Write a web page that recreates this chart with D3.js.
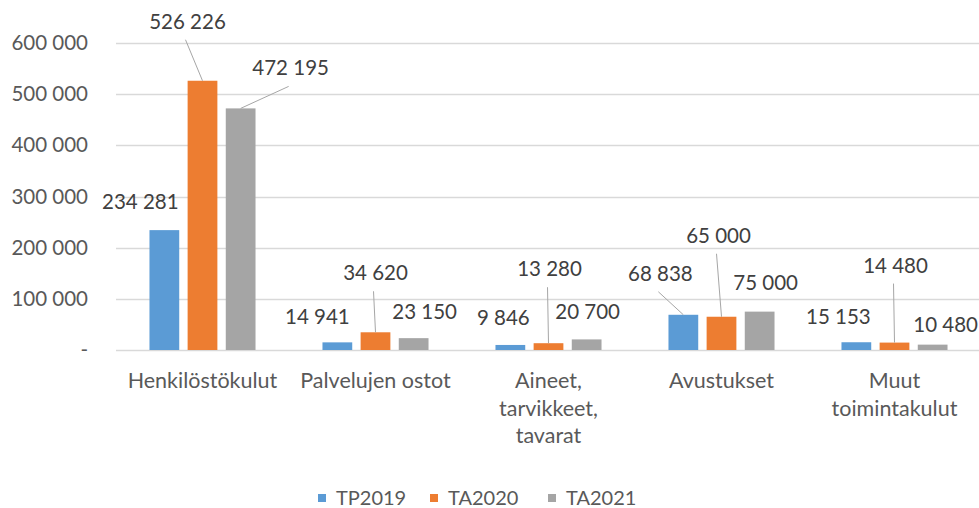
<!DOCTYPE html>
<html>
<head>
<meta charset="utf-8">
<title>Menot</title>
<style>
  body { margin: 0; background: #fff; }
  text { font-family: Lato, "Open Sans", sans-serif; }
</style>
</head>
<body>
<svg width="979" height="508"></svg>
<script src="https://d3js.org/d3.v7.min.js"></script>
<script>
const categories = [
  ['Henkilöstökulut'],
  ['Palvelujen ostot'],
  ['Aineet,', 'tarvikkeet,', 'tavarat'],
  ['Avustukset'],
  ['Muut', 'toimintakulut']
];
const seriesNames = ['TP2019', 'TA2020', 'TA2021'];
const tp2019 = [234281, 14941, 9846, 68838, 15153];
const ta2020 = [526226, 34620, 13280, 65000, 14480];
const ta2021 = [472195, 23150, 20700, 75000, 10480];
const yTicks = [0, 100000, 200000, 300000, 400000, 500000, 600000];

const colors = ['#5B9BD5', '#ED7D31', '#A5A5A5'];

// label nudges from bar top-centre [dx, dy, leader line?], by series then category
const labelNudge = [
  [[-24, -28, 0], [-20, -25, 0], [-7, -27, 0], [-23, -41, 1], [-18, -25, 0]],
  [[-15, -59, 1], [0, -59, 1], [1, -74, 1], [-3, -81, 1], [1, -77, 1]],
  [[50, -40, 1], [11, -26, 0], [1, -27, 0], [6, -29, 0], [13, -20, 0]]
];

const values = [tp2019, ta2020, ta2021];
const fmt = v => v === 0 ? '-' : d3.format(',')(v).replace(/,/g, ' ');

const svg = d3.select('svg');
const plotLeft = 116, plotRight = 981, plotTop = 43, plotBottom = 350;

const y = d3.scaleLinear().domain([0, 600000]).range([plotBottom, plotTop]);
const x0 = d3.scaleBand().domain(d3.range(categories.length)).range([plotLeft, plotRight]).paddingInner(0.387).paddingOuter(0.1935);
const x1 = d3.scaleBand().domain(d3.range(seriesNames.length)).range([0, x0.bandwidth()]).paddingInner(0.22);

// gridlines
svg.append('g').selectAll('line').data(yTicks).join('line')
  .attr('x1', plotLeft).attr('x2', plotRight)
  .attr('y1', d => Math.round(y(d)) + 0.5).attr('y2', d => Math.round(y(d)) + 0.5)
  .attr('stroke', '#D9D9D9').attr('stroke-width', 1.3);

// y axis labels
const yAxis = d3.axisLeft(y).tickValues(yTicks).tickFormat(fmt).tickSize(0).tickPadding(0);
const ya = svg.append('g').attr('transform', 'translate(88,0)').call(yAxis);
ya.select('.domain').remove();
ya.selectAll('text').attr('fill', '#595959').style('font-size', '20.5px').attr('font-family', 'Lato');

// bars
const groups = svg.append('g').selectAll('g').data(categories).join('g')
  .attr('transform', (d, i) => `translate(${x0(i)},0)`);

groups.selectAll('rect').data((d, i) => values.map((s, j) => ({ s: j, c: i, v: s[i] }))).join('rect')
  .attr('x', d => x1(d.s)).attr('width', x1.bandwidth())
  .attr('y', d => y(d.v)).attr('height', d => y(0) - y(d.v))
  .attr('fill', d => colors[d.s]);

// data labels
const labels = [];
values.forEach((s, j) => s.forEach((v, i) => {
  const bx = x0(i) + x1(j) + x1.bandwidth() / 2, by = y(v);
  const n = labelNudge[j][i];
  labels.push({ v, bx, by, lx: bx + n[0], ly: by + n[1], leader: n[2] });
}));

svg.append('g').selectAll('line').data(labels.filter(d => d.leader)).join('line')
  .attr('x1', d => d.bx).attr('y1', d => d.by)
  .attr('x2', d => d.lx - 2).attr('y2', d => d.ly + 18)
  .attr('stroke', '#A6A6A6').attr('stroke-width', 1);

svg.append('g').selectAll('text').data(labels).join('text')
  .attr('x', d => d.lx).attr('y', d => d.ly + 7)
  .attr('text-anchor', 'middle').attr('fill', '#404040').style('font-size', '20.5px')
  .text(d => fmt(d.v));

// category labels
const cat = svg.append('g').selectAll('text').data(categories).join('text')
  .attr('x', (d, i) => x0(i) + x0.bandwidth() / 2).attr('y', 388)
  .attr('text-anchor', 'middle').attr('fill', '#595959').style('font-size', '21.5px');
cat.selectAll('tspan').data(d => d).join('tspan')
  .attr('x', function () { return this.parentNode.getAttribute('x'); })
  .attr('dy', (d, k) => k ? 27.5 : 0)
  .text(d => d);

// legend
const legendX = [318, 430, 548];
const lg = svg.append('g').selectAll('g').data(seriesNames).join('g')
  .attr('transform', (d, i) => `translate(${legendX[i]},494)`);
lg.append('rect').attr('width', 8).attr('height', 8).attr('fill', (d, i) => colors[i]);
lg.append('text').attr('x', 18).attr('y', 11).attr('fill', '#595959').style('font-size', '20px').text(d => d);
</script>
</body>
</html>
